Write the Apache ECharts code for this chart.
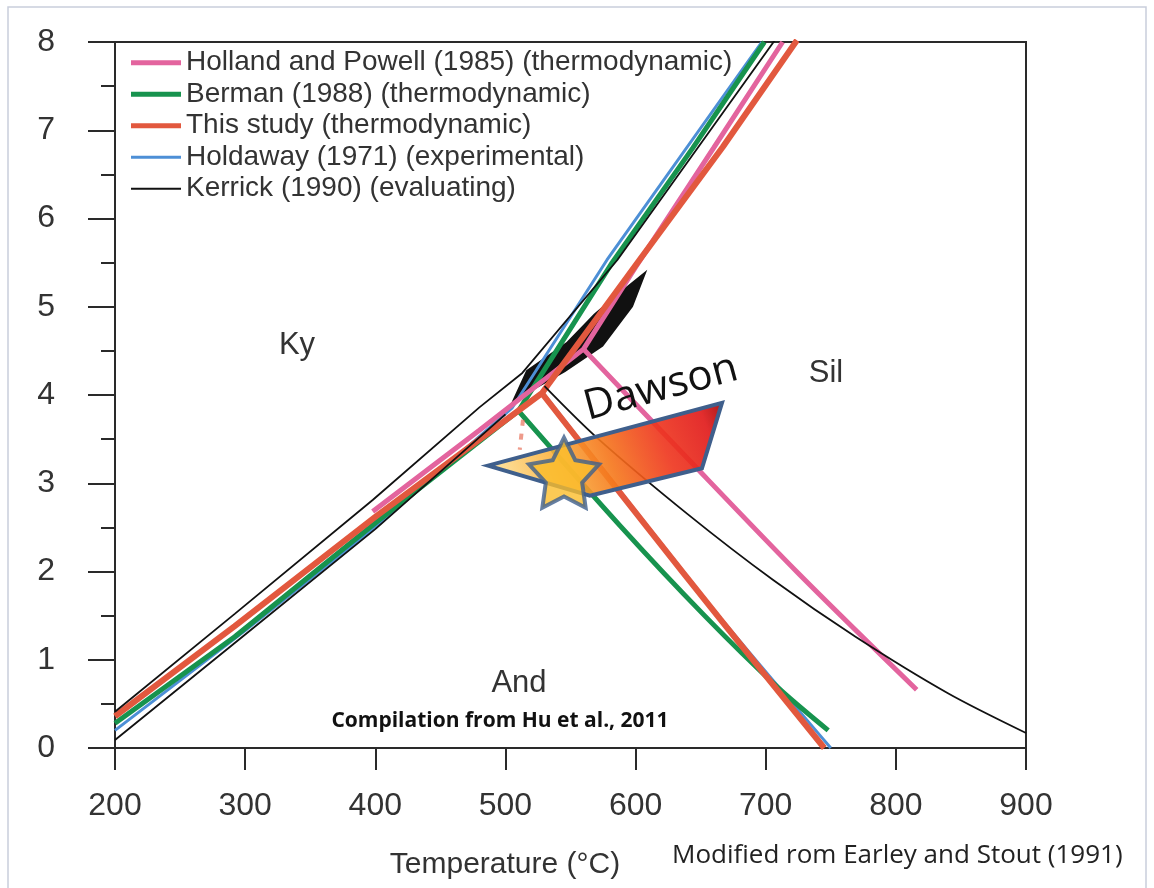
<!DOCTYPE html>
<html>
<head>
<meta charset="utf-8">
<script src="https://cdn.jsdelivr.net/npm/echarts@6/dist/echarts.min.js"></script>
<style>
  html, body { margin: 0; padding: 0; background: #fff; }
  #main { width: 1154px; height: 888px; }
</style>
</head>
<body>
<div id="main"></div>
<script>
// Al2SiO5 phase diagram, T (°C) vs P (kbar)
const xTicks = [200, 300, 400, 500, 600, 700, 800, 900];
const yTicks = [0, 1, 2, 3, 4, 5, 6, 7, 8];

// Holland and Powell (1985)
const hpKySil = [[398, 2.68], [480, 3.6], [560, 4.52], [600, 5.45], [660, 6.8], [713, 8.0]];
const hpAndSil = [[560, 4.52], [640, 3.28], [725, 1.98], [816, 0.66]];
// Berman (1988)
const bKySil = [[200, 0.28], [292, 1.26], [400, 2.55], [510, 3.82], [582, 5.5], [644, 6.8], [699, 8.0]];
const bAndSil = [[510, 3.82], [588, 2.52], [653, 1.5], [709, 0.69], [748, 0.2]];
// This study
const tsKySil = [[200, 0.36], [292, 1.38], [400, 2.62], [528, 4.02], [603, 5.53], [667, 6.81], [724, 8.02]];
const tsAndSil = [[528, 4.02], [609, 2.5], [665, 1.46], [745, 0]];
const tsDash = [[513.5, 3.72], [511, 3.38]];
// Holdaway (1971)
const hoKySil = [[200, 0.2], [300, 1.33], [400, 2.5], [505, 3.85], [578, 5.53], [697, 8.0]];
const hoAndSil = [[530, 4.0], [609, 2.52], [665, 1.48], [750, 0]];
// Kerrick (1990)
const kKySil = [[200, 0.41], [292, 1.52], [398, 2.81], [480, 3.86], [513, 4.25], [586, 5.53], [707, 8.02]];
const kLower = [[200, 0.09], [292, 1.19], [400, 2.48], [500, 3.78]];
const kAndSil = [[530, 4.1], [570, 3.52], [640, 2.65], [706, 1.9], [769, 1.26], [840, 0.62], [900, 0.17]];
const kBlob = [[502, 3.83], [516, 4.28], [547, 4.6], [568, 4.92], [587, 5.16], [609, 5.42],
               [598, 5.0], [575, 4.55], [546, 4.26], [522, 4.06]];

// Dawson P-T field and star
const dawson = [[486.6, 3.2], [666.4, 3.91], [651, 3.17], [564.9, 2.86]];
const star = [[545, 3.12]];

const names = [
  'Holland and Powell (1985) (thermodynamic)',
  'Berman (1988) (thermodynamic)',
  'This study (thermodynamic)',
  'Holdaway (1971) (experimental)',
  'Kerrick (1990) (evaluating)'
];
const colors = ['#e3649e', '#17934e', '#e2583e', '#4d8fd6', '#111111'];

const chart = echarts.init(document.getElementById('main'));

function line(name, data, color, width, z, extra) {
  return Object.assign({
    name: name,
    type: 'line',
    data: data,
    symbol: 'none',
    lineStyle: { color: color, width: width },
    itemStyle: { color: color },
    z: z,
    silent: true,
    animation: false
  }, extra || {});
}

function polygonSeries(points, style, z) {
  return {
    type: 'custom',
    data: [points[0]],
    z: z,
    silent: true,
    animation: false,
    renderItem: function (params, api) {
      return {
        type: 'polygon',
        shape: { points: points.map(p => api.coord(p)) },
        style: style
      };
    }
  };
}

const starPath = 'path://M50,0 L65.3,29 L97.55,34.55 L74.7,58 L79.39,90.45 L50,76 L20.61,90.45 L25.3,58 L2.45,34.55 L34.7,29 Z';

const font = 'Liberation Sans';

function legend(items, top, h) {
  return {
    data: items.map(n => ({ name: n, icon: 'rect' })),
    orient: 'vertical',
    left: 131, top: top,
    padding: 0,
    itemWidth: 50, itemHeight: h,
    itemGap: 0,
    textStyle: { fontFamily: font, fontSize: 28, color: '#333', lineHeight: 31.5 }
  };
}

chart.setOption({
  backgroundColor: '#fff',
  animation: false,
  grid: {
    left: 115, right: 128, top: 42, bottom: 140,
    show: true, borderColor: '#2a2a2a', borderWidth: 2
  },
  legend: [
    legend(names.slice(0, 3), 47, 5),
    legend([names[3]], 47 + 3 * 31.5, 3),
    legend([names[4]], 47 + 4 * 31.5, 2)
  ],
  xAxis: {
    type: 'value', min: xTicks[0], max: xTicks[xTicks.length - 1], interval: 100,
    axisLine: { lineStyle: { color: '#2a2a2a', width: 2 } },
    axisTick: { length: 22, lineStyle: { color: '#2a2a2a', width: 2 } },
    axisLabel: { fontFamily: font, fontSize: 32, color: '#333', margin: 42 },
    splitLine: { show: false }
  },
  yAxis: {
    type: 'value', min: yTicks[0], max: yTicks[yTicks.length - 1], interval: 1,
    axisLine: { lineStyle: { color: '#2a2a2a', width: 2 } },
    axisTick: { length: 27, lineStyle: { color: '#2a2a2a', width: 2 } },
    minorTick: { show: true, splitNumber: 2, length: 14, lineStyle: { color: '#2a2a2a', width: 2 } },
    axisLabel: { fontFamily: font, fontSize: 32, color: '#333', margin: 60 },
    splitLine: { show: false }
  },
  series: [
    polygonSeries(kBlob, { fill: '#111' }, 1),
    line(names[3], hoKySil, colors[3], 3, 2),
    line(names[3], hoAndSil, colors[3], 3, 2, { smooth: 0.3 }),
    line(names[1], bKySil, colors[1], 5, 3),
    line(names[1], bAndSil, colors[1], 5, 3, { smooth: 0.3 }),
    line(names[0], hpKySil, colors[0], 5, 4),
    line(names[0], hpAndSil, colors[0], 5, 4, { smooth: 0.3 }),
    line(names[2], tsKySil, colors[2], 6, 5),
    line(names[2], tsAndSil, colors[2], 6, 5, { smooth: 0.3 }),
    line(names[2], tsDash, colors[2], 4, 5, { lineStyle: { color: colors[2], width: 4, type: [6, 8], opacity: 0.6 } }),
    line(names[4], kKySil, colors[4], 1.8, 6),
    line(names[4], kLower, colors[4], 1.8, 6),
    line(names[4], kAndSil, colors[4], 1.8, 6, { smooth: 0.3 }),
    polygonSeries(dawson, {
      fill: new echarts.graphic.LinearGradient(0, 1, 1, 0, [
        { offset: 0, color: 'rgba(253,236,170,0.85)' },
        { offset: 0.3, color: 'rgba(250,176,58,0.88)' },
        { offset: 0.5, color: 'rgba(245,118,26,0.9)' },
        { offset: 0.72, color: 'rgba(238,52,28,0.9)' },
        { offset: 0.9, color: 'rgba(225,28,28,0.92)' },
        { offset: 1, color: 'rgba(160,12,12,0.95)' }
      ]),
      stroke: '#3f5f8c', lineWidth: 4
    }, 8),
    {
      type: 'scatter',
      data: star,
      symbol: starPath,
      symbolSize: [70, 70],
      itemStyle: { color: '#fbbd2b', borderColor: '#3f5f8c', borderWidth: 4 },
      z: 9,
      silent: true,
      animation: false
    }
  ],
  graphic: [
    { type: 'rect', shape: { x: 8, y: 7, width: 1138, height: 900 },
      style: { fill: 'none', stroke: '#c9cedb', lineWidth: 1.5 }, z: -1, silent: true },
    { type: 'text', x: 297, y: 345, style: { text: 'Ky', font: '31px "Liberation Sans"', fill: '#333', textAlign: 'center', textVerticalAlign: 'middle' } },
    { type: 'text', x: 826, y: 373, style: { text: 'Sil', font: '31px "Liberation Sans"', fill: '#333', textAlign: 'center', textVerticalAlign: 'middle' } },
    { type: 'text', x: 519, y: 683, style: { text: 'And', font: '31px "Liberation Sans"', fill: '#333', textAlign: 'center', textVerticalAlign: 'middle' } },
    { type: 'text', x: 500, y: 721, style: { text: 'Compilation from Hu et al., 2011', font: 'bold 21px "Open Sans"', fill: '#111', textAlign: 'center', textVerticalAlign: 'middle' } },
    { type: 'text', x: 661, y: 388, rotation: 15 * Math.PI / 180, z: 20,
      style: { text: 'Dawson', font: '42px "Open Sans"', fill: '#111', textAlign: 'center', textVerticalAlign: 'middle' } },
    { type: 'text', x: 505, y: 865, style: { text: 'Temperature (°C)', font: '30px "Liberation Sans"', fill: '#333', textAlign: 'center', textVerticalAlign: 'middle' } },
    { type: 'text', x: 672, y: 856, style: { text: 'Modified rom Earley and Stout (1991)', font: '26px "Open Sans"', fill: '#222', textAlign: 'left', textVerticalAlign: 'middle' } }
  ]
});
</script>
</body>
</html>
